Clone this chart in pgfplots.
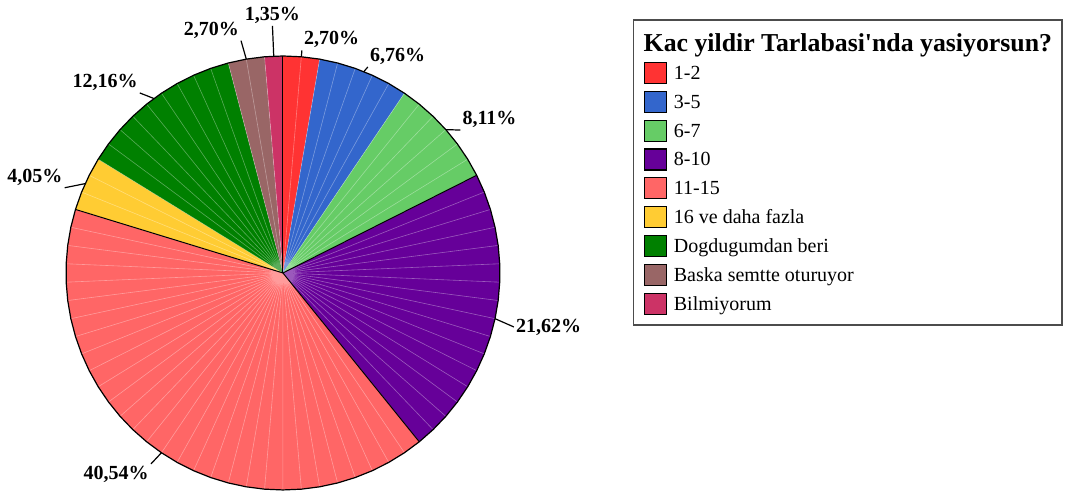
\documentclass[border=0pt]{standalone}
\usepackage{fontspec}
\setmainfont{Liberation Serif}
\usepackage{pgfplots}
\usepackage{pgfplotstable}
\pgfplotsset{compat=1.18}

\definecolor{c1}{HTML}{FF3333}
\definecolor{c2}{HTML}{3366CC}
\definecolor{c3}{HTML}{66CC66}
\definecolor{c4}{HTML}{660099}
\definecolor{c5}{HTML}{FF6666}
\definecolor{c6}{HTML}{FFCC33}
\definecolor{c7}{HTML}{008000}
\definecolor{c8}{HTML}{996666}
\definecolor{c9}{HTML}{CC3366}

% n = respondents (of 74), pct = printed share, lr/dang = leader end radius / angle shift
\pgfplotstableread[col sep=semicolon]{
label;n;pct;col;sep;lr;dang;anc
1-2;2;2.70;c1;1;1.03;0;south west
3-5;5;6.76;c2;0;1.027;0.5;south west
6-7;6;8.11;c3;0;1.05;2.5;south west
8-10;16;21.62;c4;1;1.093;1;west
11-15;30;40.54;c5;1;1.07;0.6;north east
16 ve daha fazla;3;4.05;c6;1;1.08;-3;south east
Dogdugumdan beri;9;12.16;c7;0;1.06;-2;south east
Baska semtte oturuyor;2;2.70;c8;0;1.088;-0.5;south east
Bilmiyorum;1;1.35;c9;0;1.14;0;south
}\pietable

\newcommand\getrow[1]{%
  \pgfplotstablegetelem{#1}{n}\of\pietable \edef\cnt{\pgfplotsretval}%
  \pgfplotstablegetelem{#1}{pct}\of\pietable \edef\pct{\pgfplotsretval}%
  \pgfplotstablegetelem{#1}{col}\of\pietable \edef\col{\pgfplotsretval}%
  \pgfplotstablegetelem{#1}{sep}\of\pietable \edef\sepflag{\pgfplotsretval}%
  \pgfplotstablegetelem{#1}{lr}\of\pietable \edef\lr{\pgfplotsretval}%
  \pgfplotstablegetelem{#1}{dang}\of\pietable \edef\dang{\pgfplotsretval}%
  \pgfplotstablegetelem{#1}{anc}\of\pietable \edef\anc{\pgfplotsretval}%
  \pgfplotstablegetelem{#1}{label}\of\pietable \edef\lab{\pgfplotsretval}%
}

\pgfplotstablegetrowsof{\pietable}
\pgfmathtruncatemacro\nlast{\pgfplotsretval-1}
\def\tot{0}
\pgfplotsforeachungrouped \i in {0,...,\nlast}{%
  \getrow{\i}\pgfmathtruncatemacro\tot{\tot+\cnt}}
\pgfmathsetmacro\stp{360/\tot}
\pgfmathtruncatemacro\totm{\tot-1}

\pgfplotsset{pielegend/.style={legend image code/.code={%
  \draw[##1, draw=black, line width=0.6pt] (0pt,-5.25pt) rectangle (11pt,5.25pt);}}}

\begin{document}
\begin{tikzpicture}
\begin{axis}[
  x=108.5pt, y=108.5pt,
  xmin=-1.304, xmax=3.618, ymin=-1.023, ymax=1.258,
  hide axis, clip=false,
  legend cell align=left,
  legend style={at={(0.5927,0.961)}, anchor=north west,
    draw=black!70, line width=0.7pt, fill=white,
    inner xsep=5pt, inner ysep=5pt,
    font=\rmfamily\fontsize{10}{12}\selectfont,
    row sep=3.35pt, column sep=3.5pt,
    nodes={inner sep=0pt, text height=8.5pt, text depth=2pt}},
]
\path (rel axis cs:0,0) rectangle (rel axis cs:1,1);
\addlegendimage{empty legend}
\addlegendentry[text height=10.5pt]{\hspace{-15.1pt}\fontsize{12.9}{14}\selectfont\bfseries Kac yildir Tarlabasi\textquotesingle nda yasiyorsun?\hspace{12pt}}

% slices
\def\acc{0}
\pgfplotsforeachungrouped \i in {0,...,\nlast}{%
  \getrow{\i}%
  \pgfmathsetmacro\astart{\acc*\stp}%
  \edef\cmd{\noexpand\fill[\col] (axis cs:0,0) \noexpand\foreach \noexpand\k in {0,...,\cnt}{ -- (axis cs:{sin(\astart+\noexpand\k*\stp)},{cos(\astart+\noexpand\k*\stp)})} -- cycle;
    \noexpand\addlegendimage{pielegend, fill=\col}\noexpand\addlegendentry{\lab}}%
  \cmd
  \pgfmathtruncatemacro\acc{\acc+\cnt}%
}

% seams between respondents
\draw[white, opacity=0.35, line width=0.3pt] \foreach \k in {1,...,\totm}{(axis cs:0,0) -- (axis cs:{sin(\k*\stp)},{cos(\k*\stp)})};

% separators and labels
\def\acc{0}
\pgfplotsforeachungrouped \i in {0,...,\nlast}{%
  \getrow{\i}%
  \pgfmathsetmacro\astart{\acc*\stp}%
  \pgfmathsetmacro\amid{(\acc+0.5*\cnt)*\stp}%
  \pgfmathsetmacro\aend{\amid+\dang}%
  \ifnum\sepflag=1
    \edef\cmd{\noexpand\draw[black, line width=0.5pt] (axis cs:0,0) -- (axis cs:{sin(\astart)},{cos(\astart)});}%
    \cmd
  \fi
  \edef\cmd{\noexpand\draw[line width=0.6pt] (axis cs:{sin(\amid)},{cos(\amid)}) -- (axis cs:{\lr*sin(\aend)},{\lr*cos(\aend)})
    node[anchor=\anc, inner sep=0.8pt, font=\noexpand\fontsize{10}{12}\noexpand\selectfont\noexpand\bfseries]
    {\noexpand\pgfmathprintnumber[fixed, fixed zerofill, precision=2, use comma, assume math mode=true]{\pct}\noexpand\%};}%
  \cmd
  \pgfmathtruncatemacro\acc{\acc+\cnt}%
}

% outline
\draw[black, line width=0.6pt] (axis cs:0,1) \foreach \k in {1,...,\totm}{ -- (axis cs:{sin(\k*\stp)},{cos(\k*\stp)})} -- cycle;
\end{axis}
\end{tikzpicture}
\end{document}
